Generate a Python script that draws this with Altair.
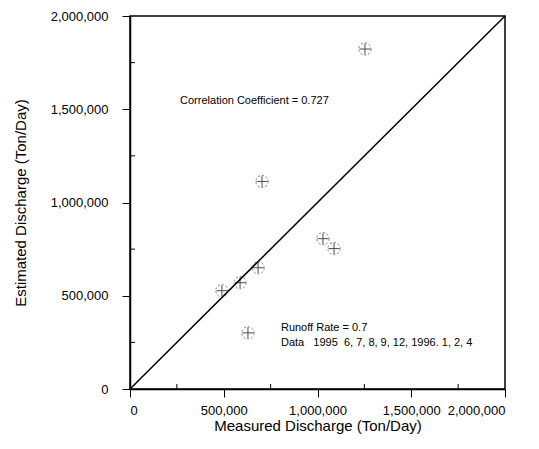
import altair as alt
import pandas as pd

measured = [490000, 587000, 683000, 704000, 1029000, 1088000, 629000, 1253000]
estimated = [527000, 570000, 650000, 1113000, 806000, 753000, 301000, 1823000]
minor_ticks = [250000, 750000, 1250000, 1750000]

df = pd.DataFrame({"Measured": measured, "Estimated": estimated})
line_df = pd.DataFrame({"Measured": [0, 2000000], "Estimated": [0, 2000000]})
minor_df = pd.DataFrame({"v": minor_ticks})
notes = pd.DataFrame({
    "x": [267000, 805000, 805000],
    "y": [1543000, 328000, 247000],
    "t": ["Correlation Coefficient = 0.727", "Runoff Rate = 0.7",
          "Data\u00a0\u00a0\u00a01995\u00a0\u00a06, 7, 8, 9, 12, 1996. 1, 2, 4"],
})

font = "Liberation Sans"
ticks = [0, 500000, 1000000, 1500000, 2000000]
xs = alt.Scale(domain=[0, 2000000], nice=False, zero=True)
ys = alt.Scale(domain=[0, 2000000], nice=False, zero=True)

xaxis = alt.Axis(title="Measured Discharge (Ton/Day)", values=ticks,
                 labelExpr="format(datum.value, ',')", labelPadding=7, titlePadding=1)
yaxis = alt.Axis(title="Estimated Discharge (Ton/Day)", values=ticks,
                 labelExpr="format(datum.value, ',')", labelPadding=14, titlePadding=22)

diag = alt.Chart(line_df).mark_line(color="black", strokeWidth=1.5).encode(
    x=alt.X("Measured:Q", scale=xs, axis=xaxis),
    y=alt.Y("Estimated:Q", scale=ys, axis=yaxis),
)
base = alt.Chart(df)
circles = base.mark_point(shape="circle", size=150, color="#444", strokeWidth=1, strokeDash=[2, 2]).encode(
    x=alt.X("Measured:Q", scale=xs, axis=xaxis), y=alt.Y("Estimated:Q", scale=ys, axis=yaxis))
crosses = base.mark_point(shape="M-1,0L1,0M0,-1L0,1", size=120, color="black", strokeWidth=1).encode(
    x=alt.X("Measured:Q", scale=xs, axis=xaxis), y=alt.Y("Estimated:Q", scale=ys, axis=yaxis))
text = alt.Chart(notes).mark_text(align="left", baseline="middle", font=font, fontSize=11, color="black").encode(
    x=alt.X("x:Q", scale=xs, axis=xaxis), y=alt.Y("y:Q", scale=ys, axis=yaxis), text="t:N")
minor_y = alt.Chart(minor_df).mark_rule(color="black", strokeWidth=1).encode(
    y=alt.Y("v:Q", scale=ys, axis=yaxis), x=alt.value(0), x2=alt.value(5))
minor_x = alt.Chart(minor_df).mark_rule(color="black", strokeWidth=1).encode(
    x=alt.X("v:Q", scale=xs, axis=xaxis), y=alt.value(368), y2=alt.value(373))

chart = alt.layer(diag, minor_y, minor_x, circles, crosses, text).properties(
    width=375, height=373, background="white",
    padding={"left": 5, "top": 2, "right": 5, "bottom": 5}
).configure_view(stroke="black", strokeWidth=1.5).configure_axis(
    grid=False, tickColor="black", domainColor="black", labelColor="black", titleColor="black",
    labelFont=font, titleFont=font, labelFontSize=13, titleFontSize=15, titleFontWeight="normal",
    tickSize=8, domainWidth=1.5
)

chart.save("out.html", embed_options={"renderer": "svg", "actions": False})
